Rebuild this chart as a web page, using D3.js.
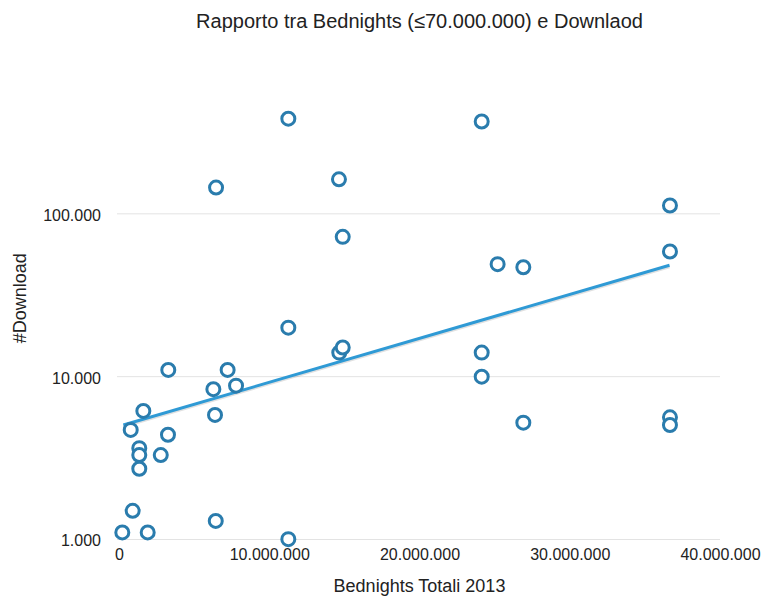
<!DOCTYPE html>
<html>
<head>
<meta charset="utf-8">
<script src="https://cdn.jsdelivr.net/npm/d3@7"></script>
<style>
  body { margin: 0; background: #fff; }
  text { font-family: "Liberation Sans", Arial, sans-serif; fill: #222; }
</style>
</head>
<body>
<div id="container"></div>
<script>
/* DATA */
const bednights = [
  11270000, 24140000, 6460000, 14640000, 36670000, 14890000, 36670000, 25200000,
  26910000, 11270000, 14660000, 14890000, 24140000, 24140000, 3280000, 7230000,
  6280000, 7790000, 1620000, 6390000, 780000, 26910000, 36670000, 36670000,
  3260000, 1350000, 1350000, 2780000, 1350000, 910000, 6440000, 220000,
  1910000, 11270000
];
const downloads = [
  384000, 369000, 145000, 163000, 112500, 72200, 58700, 49100,
  47000, 20000, 14050, 15100, 14050, 10000, 11000, 11000,
  8380, 8810, 6160, 5820, 4710, 5220, 5630, 5050,
  4400, 3640, 3300, 3300, 2720, 1500, 1300, 1105,
  1105, 1005
];
// exponential trendline end points
const trendX = [290000, 36640000];
const trendY = [5050, 48300];
const xTicks = [0, 10000000, 20000000, 30000000, 40000000];
const yTicks = [1000, 10000, 100000];

/* CONSTANTS */
const width = 765,
  height = 600,
  margin = { top: 51, right: 45, bottom: 60.5, left: 119 };

const fmt = d => d3.format(",")(d).replace(/,/g, ".");

const points = bednights.map((b, i) => ({ x: b, y: downloads[i] }));
const trend = trendX.map((x, i) => ({ x: x, y: trendY[i] }));

const xScale = d3.scaleLinear()
  .domain([0, 40000000])
  .range([margin.left, width - margin.right]);

const yScale = d3.scaleLog()
  .domain([1000, 1000000])
  .range([height - margin.bottom, margin.top]);

const svg = d3.select("#container").append("svg")
  .attr("width", width)
  .attr("height", height);

// horizontal gridlines
svg.append("g")
  .selectAll("line")
  .data(yTicks)
  .join("line")
  .attr("x1", margin.left - 2)
  .attr("x2", width - margin.right)
  .attr("y1", d => yScale(d))
  .attr("y2", d => yScale(d))
  .attr("stroke", "#e3e3e3")
  .attr("stroke-width", 1);

// y tick labels
const yAxis = d3.axisLeft(yScale)
  .tickValues(yTicks)
  .tickFormat(fmt)
  .tickSize(0)
  .tickPadding(18);

svg.append("g")
  .attr("class", "y-axis")
  .attr("transform", `translate(${margin.left},0)`)
  .call(yAxis)
  .call(g => g.select(".domain").remove())
  .call(g => g.selectAll("text")
    .attr("font-size", 16)
    .attr("font-family", "Liberation Sans, Arial, sans-serif")
    .attr("fill", "#222")
    .attr("dy", "0.4em"));

// x tick labels
const xAxis = d3.axisBottom(xScale)
  .tickValues(xTicks)
  .tickFormat(fmt)
  .tickSize(0)
  .tickPadding(9);

svg.append("g")
  .attr("class", "x-axis")
  .attr("transform", `translate(0,${height - margin.bottom})`)
  .call(xAxis)
  .call(g => g.select(".domain").remove())
  .call(g => g.selectAll("text")
    .attr("font-size", 16)
    .attr("font-family", "Liberation Sans, Arial, sans-serif")
    .attr("fill", "#222"));

// trendline shadow + line
const line = d3.line()
  .x(d => xScale(d.x))
  .y(d => yScale(d.y));

svg.append("path")
  .datum(trend)
  .attr("fill", "none")
  .attr("stroke", "#000")
  .attr("stroke-opacity", 0.12)
  .attr("stroke-width", 3)
  .attr("transform", "translate(0,1.5)")
  .attr("d", line);

svg.append("path")
  .datum(trend)
  .attr("fill", "none")
  .attr("stroke", "#2f9ad5")
  .attr("stroke-width", 3)
  .attr("d", line);

// points
svg.append("g")
  .selectAll("circle")
  .data(points)
  .join("circle")
  .attr("cx", d => xScale(d.x))
  .attr("cy", d => yScale(d.y))
  .attr("r", 6.5)
  .attr("fill", "#fff")
  .attr("stroke", "#2a7cad")
  .attr("stroke-width", 3);

// titles
const cx = (margin.left + width - margin.right) / 2;

svg.append("text")
  .attr("x", cx)
  .attr("y", 28)
  .attr("text-anchor", "middle")
  .attr("font-size", 20)
  .text("Rapporto tra Bednights (≤70.000.000) e Downlaod");

svg.append("text")
  .attr("x", cx)
  .attr("y", 592)
  .attr("text-anchor", "middle")
  .attr("font-size", 18)
  .text("Bednights Totali 2013");

svg.append("text")
  .attr("transform", `translate(26,${(margin.top + height - margin.bottom) / 2 + 3}) rotate(-90)`)
  .attr("text-anchor", "middle")
  .attr("font-size", 18)
  .text("#Download");
</script>
</body>
</html>
